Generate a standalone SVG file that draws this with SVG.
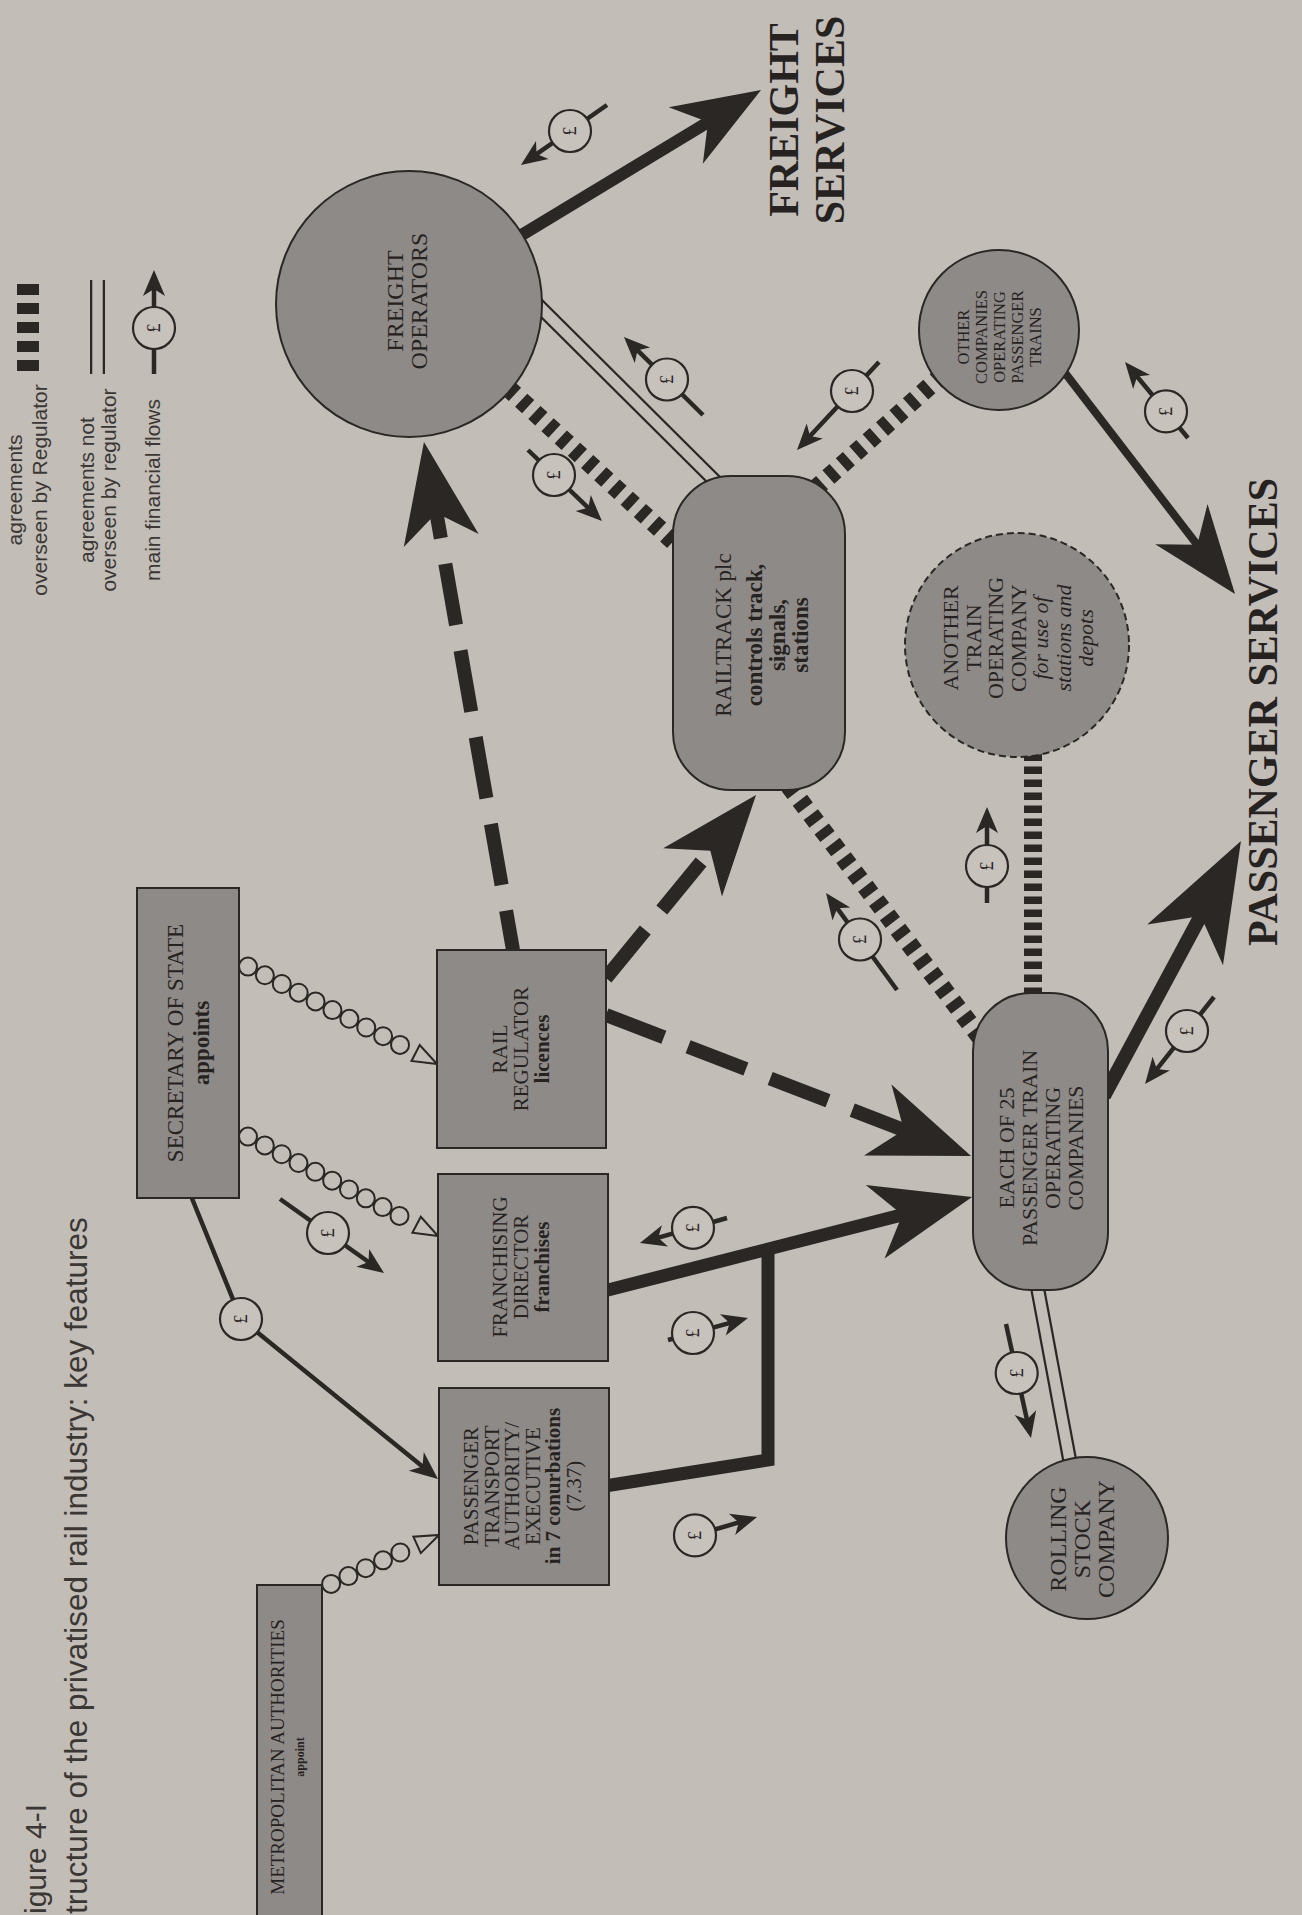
<svg xmlns="http://www.w3.org/2000/svg" width="1302" height="1915" viewBox="0 0 1302 1915">
<defs>
<style>
.t{font-family:"Liberation Serif","Times New Roman",serif;fill:#26221f}
.s{font-family:"Liberation Sans",Arial,sans-serif;fill:#3b3734}
.b{font-weight:bold}
.i{font-style:italic}
.nd{fill:#8e8a87;stroke:#2a2725;stroke-width:2}
.dsh{stroke-dasharray:7 4}
.reg{fill:none;stroke:#2a2725;stroke-width:14;stroke-dasharray:62 26}
.agr{fill:none;stroke:#2a2725;stroke-width:18;stroke-dasharray:9.5 8.5}
.agv{fill:none;stroke:#2a2725;stroke-width:18;stroke-dasharray:7.5 5.5}
.thk{fill:none;stroke:#2a2725;stroke-linejoin:miter}
.fl{stroke:#2a2725;stroke-width:4.5;fill:none}
.pc{fill:#c7c2bc;stroke:#2a2725;stroke-width:2.2}
.dbo{stroke:#2a2725;stroke-width:15}
.dbi{stroke:#c2bdb7;stroke-width:10.5}
.cho{stroke:#2a2725;stroke-width:20;stroke-dasharray:0 19;stroke-linecap:round}
.chi{stroke:#c2bdb7;stroke-width:16;stroke-dasharray:0 19;stroke-linecap:round}
.tri{fill:#c2bdb7;stroke:#2a2725;stroke-width:2;stroke-linejoin:miter}
.hd{fill:#2a2725}
.lg{font-size:21px}
</style>
<marker id="mL" markerUnits="userSpaceOnUse" viewBox="-60 -45 120 90" refX="0" refY="0" markerWidth="120" markerHeight="90" orient="auto"><path class="hd" d="M50,0 L-50,-38 L-22,0 L-50,38 Z"/></marker>
<marker id="mM" markerUnits="userSpaceOnUse" viewBox="-50 -40 100 80" refX="0" refY="0" markerWidth="100" markerHeight="80" orient="auto"><path class="hd" d="M44,0 L-44,-33 L-18,0 L-44,33 Z"/></marker>
<marker id="mX" markerUnits="userSpaceOnUse" viewBox="-65 -48 130 96" refX="0" refY="0" markerWidth="130" markerHeight="96" orient="auto"><path class="hd" d="M58,0 L-60,-43 L-27,0 L-60,43 Z"/></marker>
<marker id="mS" markerUnits="userSpaceOnUse" viewBox="-18 -14 36 28" refX="0" refY="0" markerWidth="36" markerHeight="28" orient="auto"><path class="hd" d="M14,0 L-14,-12 L-6,0 L-14,12 Z"/></marker>
<marker id="mP" markerUnits="userSpaceOnUse" viewBox="-16 -13 32 26" refX="0" refY="0" markerWidth="32" markerHeight="26" orient="auto"><path class="hd" d="M12,0 L-14,-11 L-7,0 L-14,11 Z"/></marker>
<g id="pd"><circle class="pc" r="21"/><text class="t" transform="rotate(-90)" x="0" y="6" text-anchor="middle" font-size="18">£</text></g>
</defs>

<rect x="0" y="0" width="1302" height="1915" fill="#c2bdb7"/>

<g id="title">
<text class="s" transform="rotate(-90)" x="-1914" y="46" font-size="30">igure 4-I</text>
<text class="s" transform="rotate(-90)" x="-1914" y="87" font-size="31.5">tructure of the privatised rail industry: key features</text>
</g>

<g id="legend">
<line x1="28" y1="284" x2="28" y2="374" stroke="#2a2725" stroke-width="22" stroke-dasharray="11 8"/>
<text class="s lg" transform="rotate(-90)" x="-490" y="22" text-anchor="middle">agreements</text>
<text class="s lg" transform="rotate(-90)" x="-490" y="47" text-anchor="middle">overseen by Regulator</text>
<line class="dbo" x1="97.5" y1="280" x2="97.5" y2="374"/>
<line class="dbi" x1="97.5" y1="278" x2="97.5" y2="376"/>
<text class="s lg" transform="rotate(-90)" x="-490" y="94" text-anchor="middle">agreements not</text>
<text class="s lg" transform="rotate(-90)" x="-490" y="116" text-anchor="middle">overseen by regulator</text>
<line class="fl" x1="154" y1="374" x2="154" y2="282" marker-end="url(#mP)"/>
<use href="#pd" x="154" y="328"/>
<text class="s lg" transform="rotate(-90)" x="-490" y="160" text-anchor="middle">main financial flows</text>
</g>

<g id="connectors">
<line class="agr" x1="508" y1="388" x2="676" y2="544"/>
<line class="agr" x1="815" y1="489" x2="940" y2="377"/>
<line class="agr" x1="789" y1="786" x2="980" y2="1037"/>
<line class="agv" x1="1033" y1="995" x2="1033" y2="752"/>

<line class="dbo" x1="537" y1="304" x2="716" y2="482"/>
<line class="dbi" x1="537" y1="304" x2="716" y2="482"/>
<line class="dbo" x1="1037" y1="1285" x2="1070" y2="1462"/>
<line class="dbi" x1="1037" y1="1285" x2="1070" y2="1462"/>

<line class="reg" x1="513" y1="950" x2="432.6" y2="491.3" stroke-dashoffset="22" marker-end="url(#mL)"/>
<line class="reg" x1="606" y1="978" x2="724.3" y2="833.7" marker-end="url(#mL)"/>
<line class="reg" x1="606" y1="1015" x2="924.4" y2="1138" marker-end="url(#mL)"/>

<path class="thk" stroke-width="13" d="M605,1486 L768,1460 L768,1247"/>
<line class="thk" stroke-width="13" x1="606" y1="1290.5" x2="923.6" y2="1209.4" marker-end="url(#mL)"/>
<line class="thk" stroke-width="12" x1="515" y1="239" x2="723.4" y2="112.8" marker-end="url(#mM)"/>
<line class="thk" stroke-width="8" x1="1062" y1="369" x2="1208.2" y2="559.1" marker-end="url(#mM)"/>
<line class="thk" stroke-width="14" x1="1104" y1="1096" x2="1213.5" y2="892.1" marker-end="url(#mX)"/>
<polyline class="fl" points="191,1196 241,1319 427.1,1470.2" marker-end="url(#mS)"/>

<g id="chain-sos-reg">
<line class="cho" x1="248" y1="966.6" x2="400.4" y2="1045.1"/>
<line class="chi" x1="248" y1="966.6" x2="400.4" y2="1045.1"/>
<polygon class="tri" points="437,1064 411.5,1061 419.7,1045"/>
</g>
<g id="chain-sos-fran">
<line class="cho" x1="248" y1="1136.6" x2="399.8" y2="1216.1"/>
<line class="chi" x1="248" y1="1136.6" x2="399.8" y2="1216.1"/>
<polygon class="tri" points="438,1236 412.4,1232.8 420.8,1216.8"/>
</g>
<g id="chain-metro-pta">
<line class="cho" x1="331.1" y1="1583.9" x2="400.8" y2="1552.3"/>
<line class="chi" x1="331.1" y1="1583.9" x2="400.8" y2="1552.3"/>
<polygon class="tri" points="439,1535 420.8,1553.1 413.4,1536.7"/>
</g>

<g id="money-flows">
<line class="fl" x1="607" y1="105" x2="530.8" y2="158.1" marker-end="url(#mP)"/><use href="#pd" x="570" y="131"/>
<line class="fl" x1="703" y1="415" x2="632.5" y2="345.4" marker-end="url(#mP)"/><use href="#pd" x="667" y="379.5"/>
<line class="fl" x1="528" y1="450" x2="593.3" y2="512.7" marker-end="url(#mP)"/><use href="#pd" x="554" y="475"/>
<line class="fl" x1="879" y1="362" x2="805.2" y2="441.2" marker-end="url(#mP)"/><use href="#pd" x="852" y="391"/>
<line class="fl" x1="1188" y1="438" x2="1132.7" y2="371.2" marker-end="url(#mP)"/><use href="#pd" x="1166" y="411.4"/>
<line class="fl" x1="897" y1="990" x2="833.1" y2="902.7" marker-end="url(#mP)"/><use href="#pd" x="860" y="939.5"/>
<line class="fl" x1="987" y1="903" x2="987" y2="819" marker-end="url(#mP)"/><use href="#pd" x="987" y="866"/>
<line class="fl" x1="1214" y1="997" x2="1152.5" y2="1074.6" marker-end="url(#mP)"/><use href="#pd" x="1187" y="1031"/>
<line class="fl" x1="1006" y1="1324" x2="1028.4" y2="1426.3" marker-end="url(#mP)"/><use href="#pd" x="1016.7" y="1373"/>
<line class="fl" x1="727" y1="1218" x2="651.5" y2="1239.7" marker-end="url(#mP)"/><use href="#pd" x="693" y="1227.8"/>
<line class="fl" x1="668" y1="1340" x2="736.4" y2="1321.2" marker-end="url(#mP)"/><use href="#pd" x="693" y="1333"/>
<line class="fl" x1="676" y1="1541" x2="745.5" y2="1520.4" marker-end="url(#mP)"/><use href="#pd" x="695" y="1535.4"/>
<line class="fl" x1="280" y1="1199" x2="374.2" y2="1266" marker-end="url(#mP)"/><use href="#pd" x="328" y="1233"/>
<use href="#pd" x="241" y="1319"/>
</g>
</g>

<g id="n-freight">
<circle class="nd" cx="409" cy="304" r="133"/>
<text class="t" transform="rotate(-90)" text-anchor="middle" font-size="24"><tspan x="-301" y="403">FREIGHT</tspan><tspan x="-301" y="427">OPERATORS</tspan></text>
</g>

<g id="n-freight-services">
<text class="t b" transform="rotate(-90)" text-anchor="middle" font-size="42"><tspan x="-120" y="798">FREIGHT</tspan><tspan x="-120" y="844">SERVICES</tspan></text>
</g>

<g id="n-passenger-services">
<text class="t b" transform="rotate(-90)" x="-712" y="1277" text-anchor="middle" font-size="42">PASSENGER SERVICES</text>
</g>

<g id="n-railtrack">
<rect class="nd" x="673" y="476" width="172" height="314" rx="58"/>
<text class="t" transform="rotate(-90)" text-anchor="middle" font-size="23"><tspan x="-635" y="731">RAILTRACK plc</tspan><tspan class="b" x="-635" y="762">controls track,</tspan><tspan class="b" x="-635" y="785">signals,</tspan><tspan class="b" x="-635" y="808">stations</tspan></text>
</g>

<g id="n-other">
<circle class="nd" cx="999" cy="330" r="80"/>
<text class="t" transform="rotate(-90)" text-anchor="middle" font-size="16.5"><tspan x="-337" y="969">OTHER</tspan><tspan x="-337" y="987">COMPANIES</tspan><tspan x="-337" y="1005">OPERATING</tspan><tspan x="-337" y="1023">PASSENGER</tspan><tspan x="-337" y="1041">TRAINS</tspan></text>
</g>

<g id="n-another">
<circle class="nd dsh" cx="1017" cy="645" r="112"/>
<text class="t" transform="rotate(-90)" text-anchor="middle" font-size="22"><tspan x="-638" y="958">ANOTHER</tspan><tspan x="-638" y="980.5">TRAIN</tspan><tspan x="-638" y="1003">OPERATING</tspan><tspan x="-638" y="1025.5">COMPANY</tspan><tspan class="i" x="-638" y="1048">for use of</tspan><tspan class="i" x="-638" y="1070.5">stations and</tspan><tspan class="i" x="-638" y="1093">depots</tspan></text>
</g>

<g id="n-each">
<rect class="nd" x="973" y="993" width="135" height="297" rx="58"/>
<text class="t" transform="rotate(-90)" text-anchor="middle" font-size="22"><tspan x="-1148" y="1014">EACH OF 25</tspan><tspan x="-1148" y="1037">PASSENGER TRAIN</tspan><tspan x="-1148" y="1060">OPERATING</tspan><tspan x="-1148" y="1083">COMPANIES</tspan></text>
</g>

<g id="n-rolling">
<circle class="nd" cx="1087" cy="1538" r="81"/>
<text class="t" transform="rotate(-90)" text-anchor="middle" font-size="24"><tspan x="-1539" y="1066">ROLLING</tspan><tspan x="-1539" y="1090">STOCK</tspan><tspan x="-1539" y="1114">COMPANY</tspan></text>
</g>

<g id="n-sos">
<rect class="nd" x="137" y="888" width="102" height="310"/>
<text class="t" transform="rotate(-90)" text-anchor="middle" font-size="23"><tspan x="-1043" y="183">SECRETARY OF STATE</tspan><tspan class="b" x="-1043" y="209">appoints</tspan></text>
</g>

<g id="n-regulator">
<rect class="nd" x="437" y="950" width="169" height="198"/>
<text class="t" transform="rotate(-90)" text-anchor="middle" font-size="21"><tspan x="-1049" y="507">RAIL</tspan><tspan x="-1049" y="528">REGULATOR</tspan><tspan class="b" x="-1049" y="549">licences</tspan></text>
</g>

<g id="n-franchising">
<rect class="nd" x="438" y="1174" width="170" height="187"/>
<text class="t" transform="rotate(-90)" text-anchor="middle" font-size="21"><tspan x="-1267" y="507">FRANCHISING</tspan><tspan x="-1267" y="528">DIRECTOR</tspan><tspan class="b" x="-1267" y="549">franchises</tspan></text>
</g>

<g id="n-pta">
<rect class="nd" x="439" y="1388" width="170" height="197"/>
<text class="t" transform="rotate(-90)" text-anchor="middle" font-size="21"><tspan x="-1486" y="478">PASSENGER</tspan><tspan x="-1486" y="498.6">TRANSPORT</tspan><tspan x="-1486" y="519.2">AUTHORITY/</tspan><tspan x="-1486" y="539.8">EXECUTIVE</tspan><tspan class="b" x="-1486" y="560.4">in 7 conurbations</tspan><tspan x="-1486" y="581">(7.37)</tspan></text>
</g>

<g id="n-metro">
<rect class="nd" x="257" y="1585" width="65" height="340"/>
<text class="t" transform="rotate(-90)" text-anchor="middle"><tspan x="-1757" y="284" font-size="19">METROPOLITAN AUTHORITIES</tspan><tspan class="b" x="-1757" y="304" font-size="12">appoint</tspan></text>
</g>
</svg>
